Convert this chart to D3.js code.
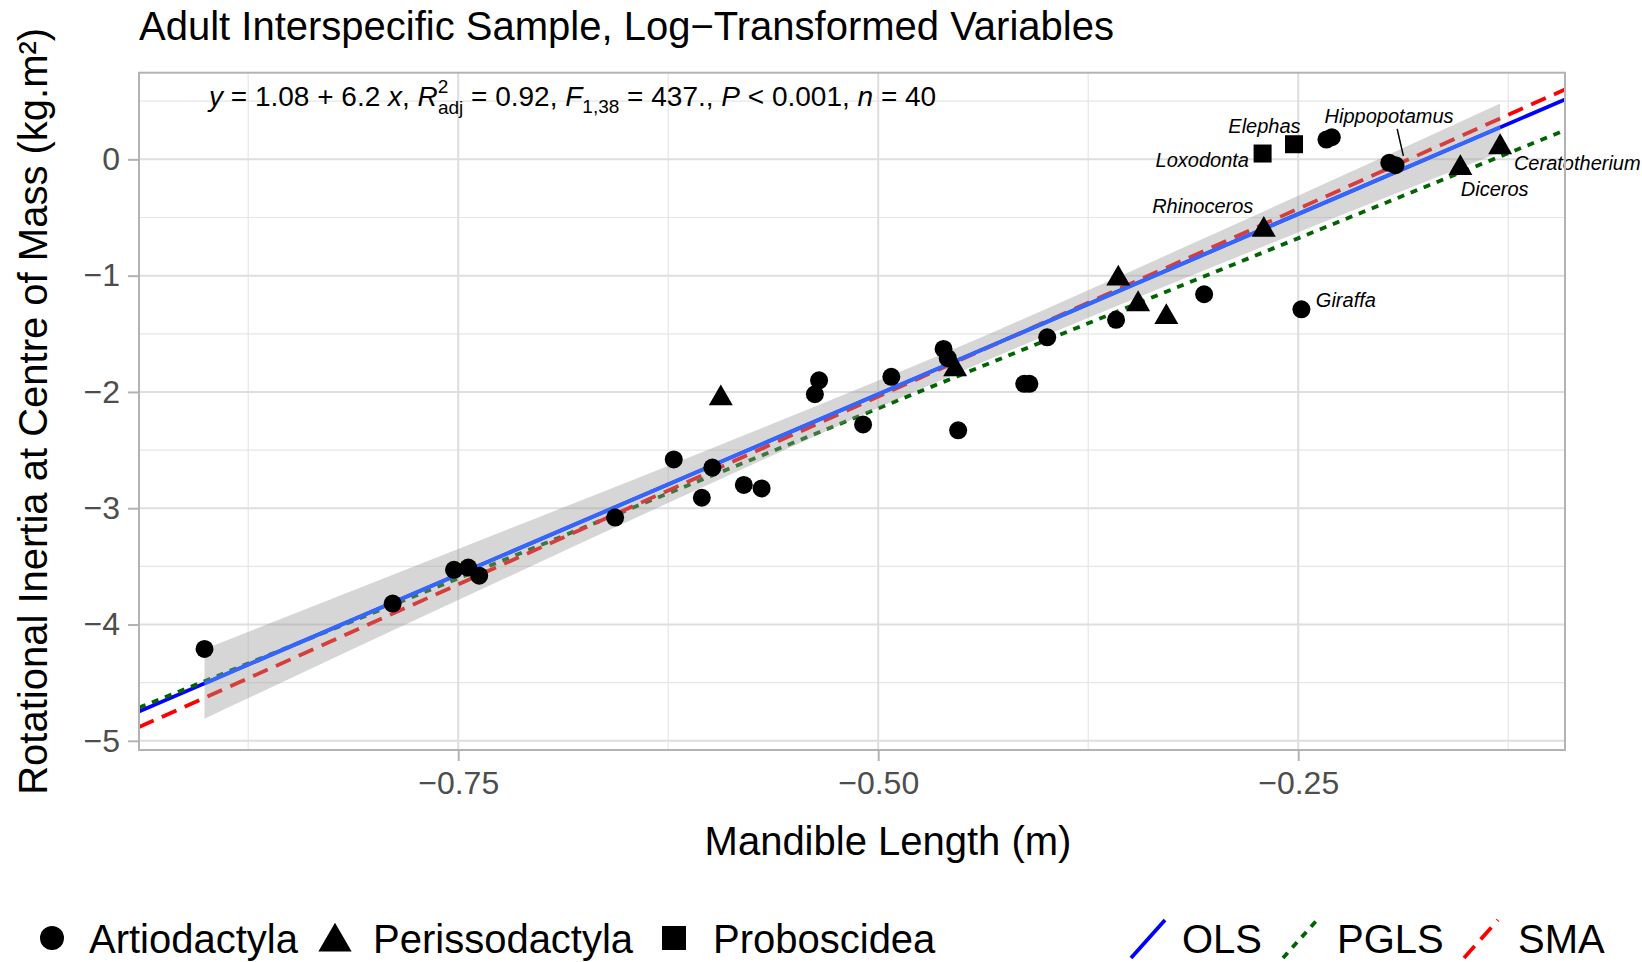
<!DOCTYPE html>
<html>
<head>
<meta charset="utf-8">
<script src="https://cdn.jsdelivr.net/npm/d3@7"></script>
<style>
  body { margin: 0; background: #fff; }
  svg { display: block; font-family: "Liberation Sans", Arial, sans-serif; }
</style>
</head>
<body>
<div id="container"></div>
<script>
// points, one pair of arrays per order
var artioX = [-0.901, -0.789, -0.7525, -0.744, -0.7375, -0.6566, -0.6217, -0.605, -0.5987, -0.58,
              -0.5694, -0.5377, -0.5352, -0.509, -0.4922, -0.4611, -0.4586, -0.4524, -0.4131, -0.41,
              -0.3994, -0.3584, -0.306, -0.2481, -0.2332, -0.23, -0.1958, -0.1921];
var artioY = [-4.21, -3.82, -3.53, -3.51, -3.58, -3.08, -2.58, -2.91, -2.65, -2.80,
              -2.83, -2.02, -1.90, -2.28, -1.87, -1.63, -1.71, -2.33, -1.93, -1.93,
              -1.53, -1.38, -1.16, -1.29, 0.17, 0.19, -0.03, -0.05];
var perissoX = [-0.5937, -0.4542, -0.3571, -0.3453, -0.3285, -0.2705, -0.1535, -0.1298];
var perissoY = [-2.03, -1.78, -1.00, -1.22, -1.33, -0.58, -0.05, 0.13];
var probosX = [-0.2712, -0.2525];
var probosY = [0.05, 0.13];

// fitted lines
var fitNames = ['OLS', 'PGLS', 'SMA'];
var fitIntercepts = [1.08, 0.784, 1.19];
var fitSlopes = [6.2, 5.85, 6.46];

// OLS confidence band
var bandX = [-0.901, -0.75, -0.6, -0.45, -0.3, -0.1298];
var bandLo = [-4.81, -3.79, -2.79, -1.82, -0.92, 0.06];
var bandHi = [-4.21, -3.35, -2.49, -1.60, -0.64, 0.48];

// labelled genera
var labelNames = ['Elephas', 'Hippopotamus', 'Loxodonta', 'Ceratotherium', 'Diceros', 'Rhinoceros', 'Giraffa'];
var labelX = [-0.2701, -0.2343, -0.2793, -0.1216, -0.1532, -0.2767, -0.2395];
var labelY = [0.226, 0.316, -0.07, -0.089, -0.316, -0.458, -1.268];
var labelAnchor = ['middle', 'start', 'end', 'start', 'start', 'end', 'start'];
var hippoSegX = [-0.1911, -0.1874];
var hippoSegY = [0.262, 0.03];

var xTicks = [-0.75, -0.5, -0.25];
var xMinor = [-0.875, -0.625, -0.375, -0.125];
var yTicks = [0, -1, -2, -3, -4, -5];
var yMinor = [0.5, -0.5, -1.5, -2.5, -3.5, -4.5];

var groupNames = ['Artiodactyla', 'Perissodactyla', 'Proboscidea'];

var width = 1642, height = 962;
var pLeft = 139, pRight = 1565, pTop = 72.7, pBottom = 750;
var fitColors = ['#0000ff', '#006400', '#ff0000'];
var fitDash = [null, '7,7', '16,9'];

var svg = d3.select('#container')
    .append('svg')
    .attr('width', width)
    .attr('height', height);

var x = d3.scaleLinear().domain([-0.940, -0.0912]).range([pLeft, pRight]);
var y = d3.scaleLinear().domain([-5.079, 0.745]).range([pBottom, pTop]);

svg.append('defs').append('clipPath').attr('id', 'clip')
    .append('rect')
    .attr('x', pLeft).attr('y', pTop)
    .attr('width', pRight - pLeft).attr('height', pBottom - pTop);

// grid
var grid = svg.append('g');
grid.selectAll('.xmin').data(xMinor).enter().append('line')
    .attr('x1', d => x(d)).attr('x2', d => x(d)).attr('y1', pTop).attr('y2', pBottom)
    .attr('stroke', '#e6e6e6').attr('stroke-width', 1.2);
grid.selectAll('.ymin').data(yMinor).enter().append('line')
    .attr('y1', d => y(d)).attr('y2', d => y(d)).attr('x1', pLeft).attr('x2', pRight)
    .attr('stroke', '#e6e6e6').attr('stroke-width', 1.2);
grid.selectAll('.xmaj').data(xTicks).enter().append('line')
    .attr('x1', d => x(d)).attr('x2', d => x(d)).attr('y1', pTop).attr('y2', pBottom)
    .attr('stroke', '#dedede').attr('stroke-width', 2);
grid.selectAll('.ymaj').data(yTicks).enter().append('line')
    .attr('y1', d => y(d)).attr('y2', d => y(d)).attr('x1', pLeft).attr('x2', pRight)
    .attr('stroke', '#dedede').attr('stroke-width', 2);

// fitted lines across the panel
var plot = svg.append('g').attr('clip-path', 'url(#clip)');
var xDom = x.domain();
fitNames.forEach(function(name, i) {
    plot.append('line')
        .attr('x1', x(xDom[0])).attr('y1', y(fitIntercepts[i] + fitSlopes[i] * xDom[0]))
        .attr('x2', x(xDom[1])).attr('y2', y(fitIntercepts[i] + fitSlopes[i] * xDom[1]))
        .attr('stroke', fitColors[i])
        .attr('stroke-width', 3.8)
        .attr('stroke-dasharray', fitDash[i]);
});

// confidence band + smooth line
var bandData = bandX.map(function(d, i) { return {x: d, lo: bandLo[i], hi: bandHi[i]}; });
plot.append('path')
    .datum(bandData)
    .attr('d', d3.area().x(d => x(d.x)).y0(d => y(d.lo)).y1(d => y(d.hi)).curve(d3.curveMonotoneX))
    .attr('fill', '#999999')
    .attr('fill-opacity', 0.4);
plot.append('line')
    .attr('x1', x(bandX[0])).attr('y1', y(fitIntercepts[0] + fitSlopes[0] * bandX[0]))
    .attr('x2', x(bandX[bandX.length - 1])).attr('y2', y(fitIntercepts[0] + fitSlopes[0] * bandX[bandX.length - 1]))
    .attr('stroke', '#3366ff')
    .attr('stroke-width', 3.8);

// points
var pts = svg.append('g');
pts.selectAll('.artio').data(artioX).enter().append('circle')
    .attr('cx', d => x(d)).attr('cy', (d, i) => y(artioY[i])).attr('r', 9).attr('fill', '#000');
pts.selectAll('.peri').data(perissoX).enter().append('path')
    .attr('d', d3.symbol().type(d3.symbolTriangle).size(250))
    .attr('transform', (d, i) => 'translate(' + x(d) + ',' + (y(perissoY[i]) + 3) + ')')
    .attr('fill', '#000');
pts.selectAll('.prob').data(probosX).enter().append('rect')
    .attr('x', d => x(d) - 9).attr('y', (d, i) => y(probosY[i]) - 9)
    .attr('width', 18).attr('height', 18).attr('fill', '#000');

// labels
svg.append('line')
    .attr('x1', x(hippoSegX[0])).attr('y1', y(hippoSegY[0]))
    .attr('x2', x(hippoSegX[1])).attr('y2', y(hippoSegY[1]))
    .attr('stroke', '#000').attr('stroke-width', 1.5);
svg.selectAll('.lab').data(labelNames).enter().append('text')
    .attr('x', (d, i) => x(labelX[i]))
    .attr('y', (d, i) => y(labelY[i]))
    .attr('text-anchor', (d, i) => labelAnchor[i])
    .style('font-style', 'italic')
    .style('font-size', '20px')
    .text(d => d);

// panel border
svg.append('rect')
    .attr('x', pLeft).attr('y', pTop)
    .attr('width', pRight - pLeft).attr('height', pBottom - pTop)
    .attr('fill', 'none').attr('stroke', '#b3b3b3').attr('stroke-width', 2);

// axes
var yAxis = svg.append('g')
    .attr('transform', 'translate(' + pLeft + ',0)')
    .call(d3.axisLeft(y).tickValues(yTicks).tickSize(11).tickPadding(8).tickFormat(d3.format('d')));
var xAxis = svg.append('g')
    .attr('transform', 'translate(0,' + pBottom + ')')
    .call(d3.axisBottom(x).tickValues(xTicks).tickSize(11).tickPadding(10).tickFormat(d3.format('.2f')));
[xAxis, yAxis].forEach(function(a) {
    a.select('.domain').remove();
    a.selectAll('.tick line').attr('stroke', '#b3b3b3').attr('stroke-width', 2);
    a.selectAll('.tick text').attr('fill', '#4d4d4d').style('font-size', '32px')
        .style('font-family', '"Liberation Sans", Arial, sans-serif');
});

// titles
svg.append('text').attr('x', pLeft).attr('y', 40)
    .style('font-size', '40px').text('Adult Interspecific Sample, Log\u2212Transformed Variables');
svg.append('text').attr('x', 888).attr('y', 855)
    .attr('text-anchor', 'middle').style('font-size', '40px').text('Mandible Length (m)');
svg.append('text')
    .attr('transform', 'translate(47,' + (pTop + pBottom) / 2 + ') rotate(-90)')
    .attr('text-anchor', 'middle').style('font-size', '40px')
    .text('Rotational Inertia at Centre of Mass (kg.m\u00b2)');

// equation
var eq = svg.append('text').attr('x', 209).attr('y', 106).style('font-size', '28px');
eq.append('tspan').style('font-style', 'italic').text('y');
eq.append('tspan').text(' = 1.08 + 6.2 ');
eq.append('tspan').style('font-style', 'italic').text('x');
eq.append('tspan').text(', ');
eq.append('tspan').style('font-style', 'italic').text('R');
eq.append('tspan').attr('dy', -13).style('font-size', '19px').text('2');
eq.append('tspan').attr('dx', -10.5).attr('dy', 21).style('font-size', '19px').text('adj');
eq.append('tspan').attr('dy', -8).text(' = 0.92, ');
eq.append('tspan').style('font-style', 'italic').text('F');
eq.append('tspan').attr('dy', 7).style('font-size', '19px').text('1,38');
eq.append('tspan').attr('dy', -7).text(' = 437., ');
eq.append('tspan').style('font-style', 'italic').text('P');
eq.append('tspan').text(' < 0.001, ');
eq.append('tspan').style('font-style', 'italic').text('n');
eq.append('tspan').text(' = 40');

// legend
var leg = svg.append('g').style('font-size', '40px');
leg.append('circle').attr('cx', 52).attr('cy', 938).attr('r', 12).attr('fill', '#000');
leg.append('path').attr('d', d3.symbol().type(d3.symbolTriangle).size(480))
    .attr('transform', 'translate(335,942)').attr('fill', '#000');
leg.append('rect').attr('x', 662).attr('y', 926).attr('width', 24).attr('height', 24).attr('fill', '#000');
var groupTextX = [89, 373, 713];
groupNames.forEach(function(n, i) {
    leg.append('text').attr('x', groupTextX[i]).attr('y', 953).text(n);
});
var fitKeyX = [1131, 1283, 1464];
var fitTextX = [1182, 1337, 1518];
fitNames.forEach(function(n, i) {
    leg.append('line')
        .attr('x1', fitKeyX[i]).attr('y1', 958).attr('x2', fitKeyX[i] + 34).attr('y2', 920)
        .attr('stroke', fitColors[i]).attr('stroke-width', 3.8)
        .attr('stroke-dasharray', fitDash[i]);
    leg.append('text').attr('x', fitTextX[i]).attr('y', 953).text(n);
});
</script>
</body>
</html>
